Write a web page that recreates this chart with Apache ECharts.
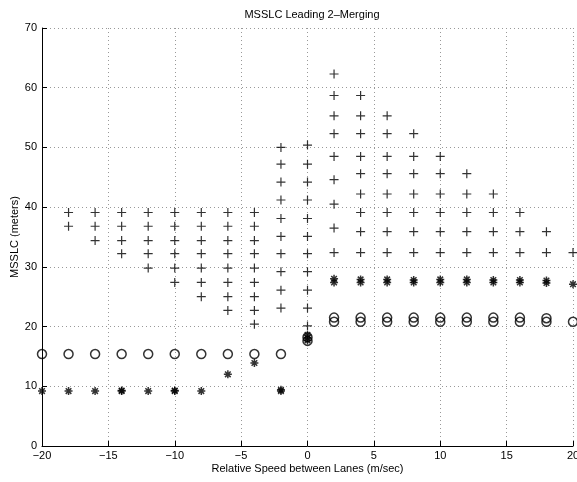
<!DOCTYPE html>
<html>
<head>
<meta charset="utf-8">
<script src="https://cdn.jsdelivr.net/npm/echarts@6/dist/echarts.min.js"></script>
<style>
html,body{margin:0;padding:0;background:#fff;}
#chart{width:577px;height:482px;}
</style>
</head>
<body>
<div id="chart"></div>
<script>
const titleText = 'MSSLC Leading 2\u2013Merging';
const xLabel = 'Relative Speed between Lanes (m/sec)';
const yLabel = 'MSSLC (meters)';

// '+' markers: [x, y]
const plusPoints = [
  [-18,39.1],[-18,36.8],
  [-16,39.1],[-16,36.8],[-16,34.4],
  [-14,39.1],[-14,36.8],[-14,34.4],[-14,32.2],
  [-12,39.1],[-12,36.8],[-12,34.4],[-12,32.2],[-12,29.8],
  [-10,39.1],[-10,36.8],[-10,34.4],[-10,32.2],[-10,29.8],[-10,27.4],
  [-8,39.1],[-8,36.8],[-8,34.4],[-8,32.2],[-8,29.8],[-8,27.4],[-8,25.0],
  [-6,39.1],[-6,36.8],[-6,34.4],[-6,32.2],[-6,29.8],[-6,27.4],[-6,25.0],[-6,22.7],
  [-4,39.1],[-4,36.8],[-4,34.4],[-4,32.2],[-4,29.8],[-4,27.4],[-4,25.0],[-4,22.7],[-4,20.4],
  [-2,50.0],[-2,47.2],[-2,44.2],[-2,41.2],[-2,38.1],[-2,35.1],[-2,32.2],[-2,29.2],[-2,26.1],[-2,23.1],
  [0,50.4],[0,47.2],[0,44.2],[0,41.2],[0,38.1],[0,35.1],[0,32.2],[0,29.2],[0,26.1],[0,23.1],[0,20.1],
  [2,62.3],[2,58.7],[2,55.3],[2,52.3],[2,48.5],[2,44.6],[2,40.5],[2,36.5],[2,32.4],
  [4,58.7],[4,55.3],[4,52.3],[4,48.5],[4,45.6],[4,42.2],[4,39.1],[4,35.9],[4,32.4],
  [6,55.3],[6,52.3],[6,48.5],[6,45.6],[6,42.2],[6,39.1],[6,35.9],[6,32.4],
  [8,52.3],[8,48.5],[8,45.6],[8,42.2],[8,39.1],[8,35.9],[8,32.4],
  [10,48.5],[10,45.6],[10,42.2],[10,39.1],[10,35.9],[10,32.4],
  [12,45.6],[12,42.2],[12,39.1],[12,35.9],[12,32.4],
  [14,42.2],[14,39.1],[14,35.9],[14,32.4],
  [16,39.1],[16,35.9],[16,32.4],
  [18,35.9],[18,32.4],
  [20,32.4]
];

// '*' markers: [x, y]
const starPoints = [
  [-20,9.2],[-18,9.2],[-16,9.2],[-14,9.2],[-14,9.3],[-12,9.2],[-10,9.2],[-10,9.3],[-8,9.2],
  [-6,12.0],[-4,13.9],[-2,9.2],[-2,9.4],
  [0,18.6],[0,18.1],[0,17.7],
  [2,28.0],[2,27.4],[4,27.9],[4,27.4],[6,27.9],[6,27.4],[8,27.8],[8,27.4],
  [10,27.9],[10,27.4],[12,27.9],[12,27.4],[14,27.8],[14,27.4],[16,27.8],[16,27.4],
  [18,27.7],[18,27.3],[20,27.1]
];

// 'o' markers: [x, y]
const circlePoints = [
  [-20,15.4],[-18,15.4],[-16,15.4],[-14,15.4],[-12,15.4],[-10,15.4],[-8,15.4],[-6,15.4],[-4,15.4],[-2,15.4],
  [0,18.2],[0,17.6],
  [2,21.5],[2,20.8],[4,21.5],[4,20.8],[6,21.5],[6,20.8],[8,21.5],[8,20.8],
  [10,21.5],[10,20.8],[12,21.5],[12,20.8],[14,21.5],[14,20.8],[16,21.5],[16,20.8],
  [18,21.4],[18,20.8],[20,20.8]
];

const xRange = [-20, 20, 5];
const yRange = [0, 70, 10];

const FONT = 'Liberation Sans, Arial, Helvetica, sans-serif';
const chart = echarts.init(document.getElementById('chart'), null, {renderer: 'canvas'});
const minus = v => String(v).replace('-', '\u2212');

const option = {
  backgroundColor: '#fff',
  animation: false,
  title: {
    text: titleText,
    left: 307, top: 4, textAlign: 'center',
    textStyle: {fontFamily: FONT, fontSize: 11, fontWeight: 'normal', color: '#000'}
  },
  grid: {left: 42, right: 4, top: 28, bottom: 36, containLabel: false, outerBoundsMode: 'none'},
  xAxis: {
    type: 'value', min: xRange[0], max: xRange[1], interval: xRange[2],
    name: xLabel, nameLocation: 'middle', nameGap: 17, nameMoveOverlap: false,
    nameTextStyle: {fontFamily: FONT, fontSize: 11, color: '#000'},
    axisLine: {show: true, onZero: false, lineStyle: {color: '#000', width: 1}},
    axisTick: {show: true, inside: true, length: 5, lineStyle: {color: '#000'}},
    axisLabel: {fontFamily: FONT, fontSize: 11, color: '#000', margin: 4, formatter: minus, hideOverlap: false},
    splitLine: {show: true, lineStyle: {color: '#999', type: [1, 3], width: 1}}
  },
  yAxis: {
    type: 'value', min: yRange[0], max: yRange[1], interval: yRange[2],
    name: yLabel, nameLocation: 'middle', nameGap: 22, nameMoveOverlap: false,
    nameTextStyle: {fontFamily: FONT, fontSize: 11, color: '#000'},
    axisLine: {show: true, onZero: false, lineStyle: {color: '#000', width: 1}},
    axisTick: {show: true, inside: true, length: 5, lineStyle: {color: '#000'}},
    axisLabel: {fontFamily: FONT, fontSize: 11, color: '#000', margin: 5, formatter: minus},
    splitLine: {show: true, lineStyle: {color: '#999', type: [1, 3], width: 1}}
  },
  series: [
    {
      type: 'scatter', data: plusPoints,
      symbol: 'path://M0,-1L0,1M-1,0L1,0', symbolSize: 9,
      itemStyle: {color: 'rgba(0,0,0,0)', borderColor: '#000', borderWidth: 1.2},
      silent: true
    },
    {
      type: 'scatter', data: starPoints,
      symbol: 'path://M0,-1L0,1M-1,0L1,0M-0.7,-0.7L0.7,0.7M-0.7,0.7L0.7,-0.7', symbolSize: 8,
      itemStyle: {color: 'rgba(0,0,0,0)', borderColor: '#000', borderWidth: 1.5},
      silent: true
    },
    {
      type: 'scatter', data: circlePoints,
      symbol: 'circle', symbolSize: 9,
      itemStyle: {color: 'rgba(0,0,0,0)', borderColor: '#000', borderWidth: 1.5},
      silent: true
    }
  ]
};
chart.setOption(option);
</script>
</body>
</html>
